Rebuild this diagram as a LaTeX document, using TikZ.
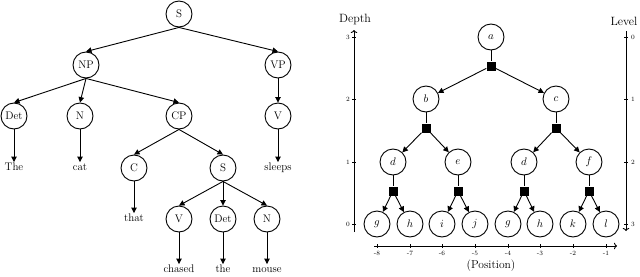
\documentclass[tikz,border=0pt]{standalone}
\usetikzlibrary{arrows.meta}
\tikzset{
 tn/.style={circle, draw, line width=0.9pt, minimum size=26pt, inner sep=0pt, font=\fontsize{11}{13}\selectfont},
 lf/.style={inner sep=1pt, text height=7.5pt, text depth=2pt, font=\fontsize{11}{13}\selectfont},
 ed/.style={line width=0.9pt, -{Triangle[length=5.5pt,width=5.5pt]}},
 pl/.style={line width=0.9pt},
 sq/.style={rectangle, fill=black, minimum size=9pt, inner sep=0pt},
 ax/.style={line width=0.9pt, -{To[length=3pt,width=6.5pt]}},
 tk/.style={line width=0.6pt},
 tl/.style={inner sep=0pt, font=\fontsize{6.5}{7}\selectfont},
 ttl/.style={inner sep=0pt, font=\fontsize{12}{14}\selectfont}
}
\begin{document}
\begin{tikzpicture}[x=1pt,y=-1pt]
\useasboundingbox (0,0) rectangle (640,276);
% ---------- left tree ----------
\node[tn] (S) at (179,14) {S};
\node[tn] (NP) at (86,65) {NP};
\node[tn] (VP) at (278,65) {VP};
\node[tn] (Det1) at (14,116) {Det};
\node[tn] (N1) at (80,116) {N};
\node[tn] (CP) at (179,116) {CP};
\node[tn] (V1) at (278,116) {V};
\node[lf] (The) at (14,168) {The};
\node[lf] (cat) at (80,168) {cat};
\node[tn] (C) at (134,168) {C};
\node[tn] (S2) at (223,168) {S};
\node[lf] (sleeps) at (278,168) {sleeps};
\node[lf] (that) at (134,219) {that};
\node[tn] (V2) at (179,219) {V};
\node[tn] (Det2) at (223,219) {Det};
\node[tn] (N2) at (267,219) {N};
\node[lf] (chased) at (179,270) {chased};
\node[lf] (the) at (223,270) {the};
\node[lf] (mouse) at (267,270) {mouse};
\draw[ed] (S.south) -- (NP.north);
\draw[ed] (S.south) -- (VP.north);
\draw[ed] (NP.south) -- (Det1.north);
\draw[ed] (NP.south) -- (N1.north);
\draw[ed] (NP.south) -- (CP.north);
\draw[ed] (VP.south) -- (V1.north);
\draw[ed] (Det1.south) -- (The.north);
\draw[ed] (N1.south) -- (cat.north);
\draw[ed] (CP.south) -- (C.north);
\draw[ed] (CP.south) -- (S2.north);
\draw[ed] (V1.south) -- (sleeps.north);
\draw[ed] (C.south) -- (that.north);
\draw[ed] (S2.south) -- (V2.north);
\draw[ed] (S2.south) -- (Det2.north);
\draw[ed] (S2.south) -- (N2.north);
\draw[ed] (V2.south) -- (chased.north);
\draw[ed] (Det2.south) -- (the.north);
\draw[ed] (N2.south) -- (mouse.north);
% ---------- right tree ----------
\node[tn] (a) at (491,37) {$a$};
\node[sq] (sa) at (491,66) {};
\node[tn] (b) at (426,99) {$b$};
\node[tn] (c) at (556,99) {$c$};
\node[sq] (sb) at (426,128) {};
\node[sq] (sc) at (556,128) {};
\node[tn] (d1) at (393,162) {$d$};
\node[tn] (e) at (458,162) {$e$};
\node[tn] (d2) at (524,162) {$d$};
\node[tn] (f) at (589,162) {$f$};
\node[sq] (sd1) at (393,191) {};
\node[sq] (se) at (458,191) {};
\node[sq] (sd2) at (524,191) {};
\node[sq] (sf) at (589,191) {};
\node[tn] (g1) at (377,224) {$g$};
\node[tn] (h1) at (410,224) {$h$};
\node[tn] (i) at (442,224) {$i$};
\node[tn] (j) at (475,224) {$j$};
\node[tn] (g2) at (508,224) {$g$};
\node[tn] (h2) at (540,224) {$h$};
\node[tn] (k) at (573,224) {$k$};
\node[tn] (l) at (606,224) {$l$};
\draw[pl] (a) -- (sa);
\draw[pl] (b) -- (sb);
\draw[pl] (c) -- (sc);
\draw[pl] (d1) -- (sd1);
\draw[pl] (e) -- (se);
\draw[pl] (d2) -- (sd2);
\draw[pl] (f) -- (sf);
\draw[ed] (sa) -- (b);
\draw[ed] (sa) -- (c);
\draw[ed] (sb) -- (d1);
\draw[ed] (sb) -- (e);
\draw[ed] (sc) -- (d2);
\draw[ed] (sc) -- (f);
\draw[ed] (sd1) -- (g1);
\draw[ed] (sd1) -- (h1);
\draw[ed] (se) -- (i);
\draw[ed] (se) -- (j);
\draw[ed] (sd2) -- (g2);
\draw[ed] (sd2) -- (h2);
\draw[ed] (sf) -- (k);
\draw[ed] (sf) -- (l);
% ---------- depth axis ----------
\coordinate (dbot) at (354,232);
\coordinate (dtop) at (354,30);
\draw[ax] (dbot) -- (dtop);
\node[ttl] (depth) at (355,19) {Depth};
\foreach \v/\yy in {3/37,2/99,1/162,0/224}{
  \draw[tk] (352,\yy) -- (356,\yy);
  \node[tl] at (348,\yy) {\v};
}
% ---------- level axis ----------
\coordinate (ltop) at (626,31);
\coordinate (lbot) at (626,231);
\draw[ax] (ltop) -- (lbot);
\node[ttl] (level) at (624,21) {Level};
\foreach \v/\yy in {0/37,1/99,2/162,3/224}{
  \draw[tk] (624,\yy) -- (628,\yy);
  \node[tl] at (633,\yy) {\v};
}
% ---------- position axis ----------
\coordinate (pl) at (374,246);
\coordinate (pr) at (617,246);
\draw[ax] (pl) -- (pr);
\foreach \v/\xx in {-8/377,-7/410,-6/442,-5/475,-4/508,-3/540,-2/573,-1/606}{
  \draw[tk] (\xx,244) -- (\xx,248);
  \node[tl] at (\xx,253) {\v};
}
\node[ttl, font=\fontsize{11.5}{13}\selectfont] (pos) at (491,266) {(Position)};
\end{tikzpicture}
\end{document}
